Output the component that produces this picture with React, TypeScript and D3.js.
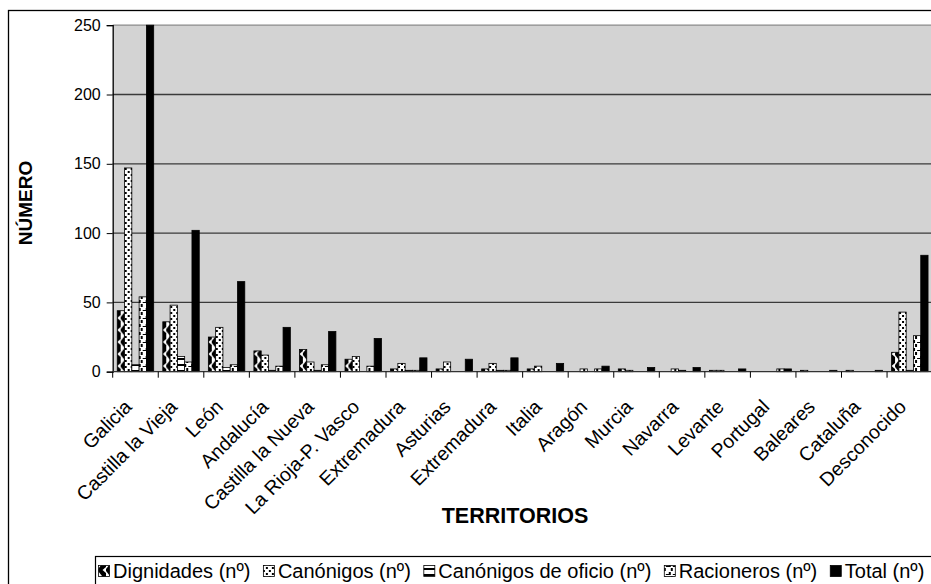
import { useEffect, useRef } from 'react';
import * as d3 from 'd3';

const categories = [
  'Galicia',
  'Castilla la Vieja',
  'León',
  'Andalucía',
  'Castilla la Nueva',
  'La Rioja-P. Vasco',
  'Extremadura',
  'Asturias',
  'Extremadura',
  'Italia',
  'Aragón',
  'Murcia',
  'Navarra',
  'Levante',
  'Portugal',
  'Baleares',
  'Cataluña',
  'Desconocido',
];

const dignidades = [44, 36, 25, 15, 16, 9, 2, 2, 2, 2, 0, 2, 0, 1, 0, 1, 1, 14];
const canonigos = [147, 48, 32, 12, 7, 11, 6, 7, 6, 4, 2, 1, 2, 1, 0, 0, 0, 43];
const oficio = [5, 11, 3, 1, 1, 0, 1, 0, 1, 0, 0, 0, 1, 0, 0, 0, 0, 1];
const racioneros = [54, 7, 5, 4, 5, 4, 1, 0, 1, 0, 2, 0, 0, 0, 2, 0, 0, 26];
const total = [250, 102, 65, 32, 29, 24, 10, 9, 10, 6, 4, 3, 3, 2, 2, 1, 1, 84];

const seriesNames = [
  'Dignidades (nº)',
  'Canónigos (nº)',
  'Canónigos de oficio (nº)',
  'Racioneros (nº)',
  'Total (nº)',
];
const yTicks = [0, 50, 100, 150, 200, 250];

const FONT = "'Liberation Sans', Arial, sans-serif";

export default function App() {
  const ref = useRef<SVGSVGElement>(null);

  useEffect(() => {
    const W = 931;
    const H = 584;
    const plot = { left: 112.7, right: 932.6, top: 25.2, bottom: 371.7 };

    const svg = d3.select(ref.current);
    svg.selectAll('*').remove();

    const series = [dignidades, canonigos, oficio, racioneros, total];
    const keys = d3.range(series.length);
    const fills = ['url(#p-dig)', 'url(#p-can)', 'url(#p-ofi)', 'url(#p-rac)', '#000'];

    // patterns (Excel-style hatch fills)
    const defs = svg.append('defs');
    const pDig = defs.append('pattern').attr('id', 'p-dig').attr('patternUnits', 'userSpaceOnUse').attr('width', 8).attr('height', 12);
    pDig.append('rect').attr('width', 8).attr('height', 12).attr('fill', '#000');
    pDig.append('polygon').attr('points', '0,0 4,0 0,5').attr('fill', '#fff');
    pDig.append('polygon').attr('points', '0,12 4,12 0,7').attr('fill', '#fff');
    pDig.append('polygon').attr('points', '8,3 8,9 4.5,6').attr('fill', '#fff');

    const pCan = defs.append('pattern').attr('id', 'p-can').attr('patternUnits', 'userSpaceOnUse').attr('width', 6).attr('height', 6);
    pCan.append('rect').attr('width', 6).attr('height', 6).attr('fill', '#fff');
    pCan.append('rect').attr('width', 2).attr('height', 2).attr('fill', '#000');
    pCan.append('rect').attr('x', 3).attr('y', 3).attr('width', 2).attr('height', 2).attr('fill', '#000');

    const pOfi = defs.append('pattern').attr('id', 'p-ofi').attr('patternUnits', 'userSpaceOnUse').attr('width', 8).attr('height', 6);
    pOfi.append('rect').attr('width', 8).attr('height', 6).attr('fill', '#fff');
    pOfi.append('rect').attr('y', 4).attr('width', 8).attr('height', 2).attr('fill', '#000');

    const pRac = defs.append('pattern').attr('id', 'p-rac').attr('patternUnits', 'userSpaceOnUse').attr('width', 7).attr('height', 8);
    pRac.append('rect').attr('width', 7).attr('height', 8).attr('fill', '#fff');
    pRac.append('rect').attr('width', 2).attr('height', 3).attr('fill', '#000');
    pRac.append('rect').attr('x', 5).attr('y', 4).attr('width', 2).attr('height', 3).attr('fill', '#000');
    pRac.append('rect').attr('x', 2).attr('y', 6).attr('width', 3).attr('height', 1).attr('fill', '#000');

    // outer chart border
    svg.append('rect')
      .attr('x', 8.5).attr('y', 10.5).attr('width', W + 20).attr('height', H + 20)
      .attr('fill', '#fff').attr('stroke', '#000').attr('stroke-width', 1.3);

    const x0 = d3.scaleBand<number>().domain(d3.range(categories.length)).range([plot.left, plot.right]).padding(0);
    const gap = x0.bandwidth() * 0.1;
    const x1 = d3.scaleBand<number>().domain(keys).range([gap, x0.bandwidth() - gap]).padding(0);
    const y = d3.scaleLinear().domain([0, 250]).range([plot.bottom, plot.top]).clamp(true);

    // plot area
    svg.append('rect')
      .attr('x', plot.left).attr('y', plot.top)
      .attr('width', plot.right - plot.left).attr('height', plot.bottom - plot.top)
      .attr('fill', '#d3d3d3');

    // gridlines
    svg.append('g')
      .selectAll('line')
      .data(yTicks.slice(1))
      .join('line')
      .attr('x1', plot.left).attr('x2', plot.right)
      .attr('y1', (d) => y(d)).attr('y2', (d) => y(d))
      .attr('stroke', (d) => (d === 250 ? '#8a8a8a' : '#3a3a3a'))
      .attr('stroke-width', 1.3);

    // bars
    svg.append('g')
      .selectAll('g')
      .data(categories.map((c, i) => i))
      .join('g')
      .attr('transform', (i) => `translate(${x0(i)},0)`)
      .selectAll('rect')
      .data((i) => keys.map((k) => ({ k, v: series[k][i] })))
      .join('rect')
      .filter((d) => d.v > 0)
      .attr('x', (d) => x1(d.k)!)
      .attr('y', (d) => y(d.v))
      .attr('width', x1.bandwidth())
      .attr('height', (d) => plot.bottom - y(d.v))
      .attr('fill', (d) => fills[d.k])
      .attr('stroke', '#000')
      .attr('stroke-width', 0.8);

    // Y Axis
    const yAxis = svg.append('g')
      .attr('transform', `translate(${plot.left},0)`)
      .call(d3.axisLeft(y).tickValues(yTicks).tickSize(6).tickPadding(6));
    yAxis.select('.domain').attr('stroke', '#000').attr('stroke-width', 1.3);
    yAxis.selectAll('.tick line').attr('stroke', '#000');
    yAxis.selectAll('text').attr('font-family', FONT).attr('font-size', 16).attr('fill', '#000');

    // X Axis (ticks on band boundaries)
    const xAxis = svg.append('g');
    xAxis.append('line')
      .attr('x1', plot.left).attr('x2', plot.right)
      .attr('y1', plot.bottom).attr('y2', plot.bottom)
      .attr('stroke', '#333').attr('stroke-width', 1.3);
    xAxis.selectAll('line.tk')
      .data(d3.range(categories.length + 1))
      .join('line')
      .attr('class', 'tk')
      .attr('x1', (i) => plot.left + i * x0.step()).attr('x2', (i) => plot.left + i * x0.step())
      .attr('y1', plot.bottom).attr('y2', plot.bottom + 6)
      .attr('stroke', '#000');
    xAxis.selectAll('text')
      .data(categories)
      .join('text')
      .attr('transform', (d, i) => `translate(${x0(i)! + x0.bandwidth() / 2 - 2.5},408) rotate(-45)`)
      .attr('text-anchor', 'end')
      .attr('font-family', FONT)
      .attr('font-size', 19.5)
      .text((d) => d);

    // axis titles
    svg.append('text')
      .attr('x', 515).attr('y', 523)
      .attr('text-anchor', 'middle')
      .attr('font-family', FONT).attr('font-size', 21.5).attr('font-weight', 'bold')
      .text('TERRITORIOS');
    svg.append('text')
      .attr('transform', 'translate(32,203) rotate(-90)')
      .attr('text-anchor', 'middle')
      .attr('font-family', FONT).attr('font-size', 19).attr('font-weight', 'bold')
      .text('NÚMERO');

    // Legend
    const legend = svg.append('g');
    legend.append('rect')
      .attr('x', 95.5).attr('y', 556.5).attr('width', W).attr('height', 40)
      .attr('fill', '#fff').attr('stroke', '#000').attr('stroke-width', 1.2);
    let lx = 98;
    seriesNames.forEach((name, k) => {
      const g = legend.append('g').attr('transform', `translate(${lx},0)`);
      g.append('rect').attr('x', 0.5).attr('y', 565.5).attr('width', 11).attr('height', 11)
        .attr('fill', fills[k]).attr('stroke', '#000').attr('stroke-width', 0.8);
      const t = g.append('text').attr('x', 15).attr('y', 578)
        .attr('font-family', FONT).attr('font-size', 20).text(name);
      const w = (t.node() as SVGTextElement).getComputedTextLength();
      lx += 15 + w + 12.5;
    });
  }, []);

  return (
    <svg
      ref={ref}
      width={931}
      height={584}
      style={{ position: 'absolute', left: 0, top: 0, display: 'block', background: '#fff' }}
    />
  );
}
